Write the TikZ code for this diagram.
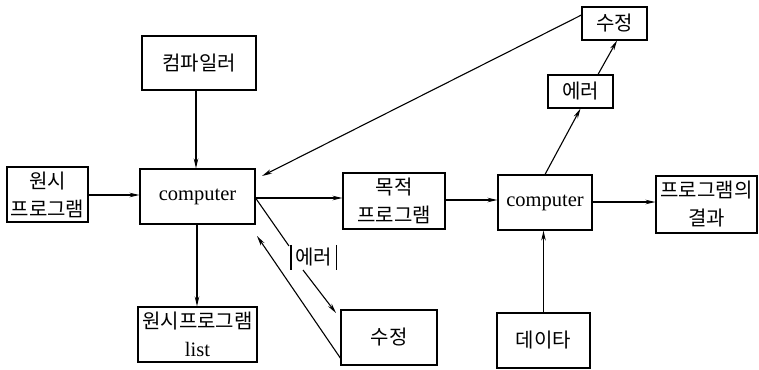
\documentclass[tikz,border=0pt]{standalone}
\usepackage{fontspec}
\setmainfont{Liberation Serif}
\newfontfamily\kr{Noto Sans CJK KR}
\usetikzlibrary{arrows.meta,calc}
\begin{document}
\begin{tikzpicture}[x=1pt,y=-1pt,
  box/.style={draw,line width=1.1pt,inner sep=0pt,align=center,font=\kr\fontsize{20}{28}\selectfont},
  cbox/.style={box,font=\fontsize{20.5}{24}\selectfont},
  conn/.style={line width=1.1pt},
  arr/.style={conn,-{Stealth[length=10pt,width=4.5pt]}}]
\useasboundingbox (0,0) rectangle (759,369);
\node[box,minimum width=81pt,minimum height=55pt] (src) at (47.5,194.5) {원시\\프로그램};
\node[cbox,minimum width=115pt,minimum height=55pt] (c1) at (197.5,196.5) {computer};
\node[box,minimum width=114pt,minimum height=54pt] (comp) at (199,63) {컴파일러};
\node[box,minimum width=119pt,minimum height=55pt] (list) at (197.5,334.5) {원시프로그램\\{\rmfamily\fontsize{20.5}{24}\selectfont list}};
\node[box,minimum width=102pt,minimum height=56pt] (obj) at (394,201) {목적\\프로그램};
\node[cbox,minimum width=94pt,minimum height=55pt] (c2) at (545,202.5) {computer};
\node[box,minimum width=101pt,minimum height=57pt] (res) at (706.5,204.5) {프로그램의\\결과};
\node[box,minimum width=65pt,minimum height=33pt] (err1) at (580.5,91.5) {에러};
\node[box,minimum width=65pt,minimum height=33pt] (fix1) at (614.5,23.5) {수정};
\node[box,minimum width=93pt,minimum height=55pt] (data) at (543.5,340.5) {데이타};
\node[box,minimum width=96pt,minimum height=55pt] (fix2) at (389,337.5) {수정};
\node[font=\kr\fontsize{20}{24}\selectfont,inner sep=0pt,minimum width=45pt,minimum height=25pt] (err2) at (313.5,257.5) {에러};
\draw[line width=2.2pt] (err2.north west) -- (err2.south west);
\draw[line width=1.1pt] (err2.north east) -- (err2.south east);
% coordinates for free ends
\coordinate (p1) at (289,246);
\coordinate (p2) at (303,270);
\coordinate (p3) at (336,313);
\coordinate (p4) at (257,236);
\coordinate (p5) at (262,176);
\coordinate (p6) at (341,359);
% connectors
\draw[arr] (src.east |- 0,195) -- (c1.west |- 0,195);
\draw[arr] (comp.south -| 196,0) -- (c1.north -| 196,0);
\draw[arr] (c1.south -| 197,0) -- (list.north -| 197,0);
\draw[arr] (c1.east |- 0,198) -- (obj.west |- 0,198);
\draw[arr] (obj.east |- 0,200) -- (c2.west |- 0,200);
\draw[arr] (c2.east |- 0,202) -- (res.west |- 0,202);
\draw[arr] (data.north) -- (data.north |- c2.south);
\draw[arr] (c2.north) -- (err1.south);
\draw[arr] ([xshift=17.5pt]err1.north) -- ([xshift=2.5pt]fix1.south);
\draw[arr] ([yshift=8.5pt]fix1.west) -- (p5);
\draw[conn] (c1.east |- 0,198) -- (p1);
\draw[arr] (p2) -- (p3);
\draw[arr] (p6) -- (p4);
\end{tikzpicture}
\end{document}
